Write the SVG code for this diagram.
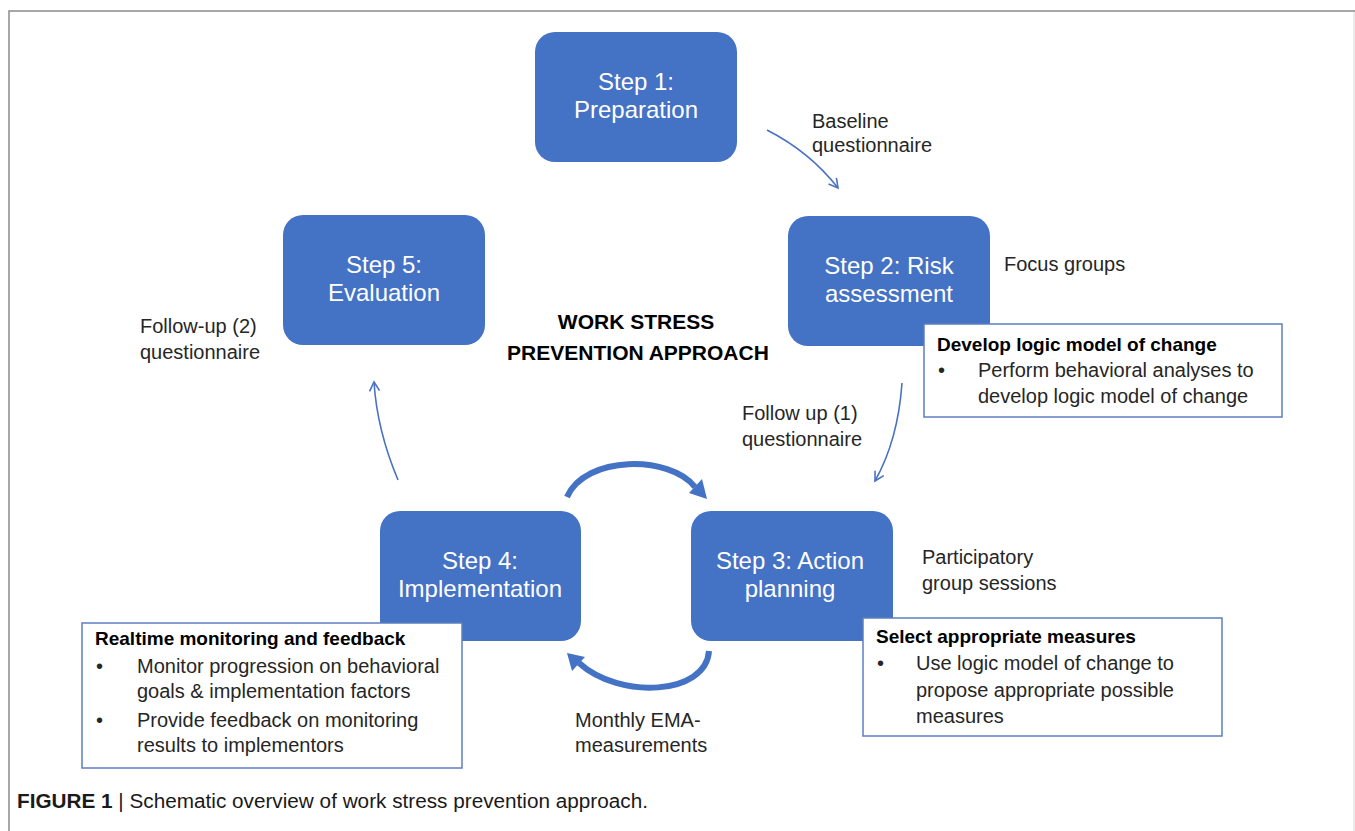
<svg xmlns="http://www.w3.org/2000/svg" width="1355" height="831" viewBox="0 0 1355 831">
<defs>
<style>
.step{fill:#4472C4;}
.st{font-family:"Liberation Sans",Arial,sans-serif;font-size:24px;fill:#fff;text-anchor:middle;}
.lbl{font-family:"Liberation Sans",Arial,sans-serif;font-size:20px;fill:#262626;}
.hd{font-family:"Liberation Sans",Arial,sans-serif;font-size:19px;font-weight:bold;fill:#000;}
.note{fill:#fff;stroke:#5B7FC0;stroke-width:1.5;}
.thin{fill:none;stroke:#4A72C2;stroke-width:1.6;}
.thick{fill:none;stroke:#4472C4;stroke-width:6;}
.title{font-family:"Liberation Sans",Arial,sans-serif;font-size:21px;font-weight:bold;fill:#000;text-anchor:middle;}
</style>
<marker id="open" markerWidth="14" markerHeight="14" refX="10" refY="6" orient="auto" markerUnits="userSpaceOnUse">
<path d="M1,1 L10,6 L1,11" fill="none" stroke="#4A72C2" stroke-width="1.6"/>
</marker>
</defs>
<rect width="1355" height="831" fill="#fff"/>
<path d="M9,831 L9,11 L1355,11" fill="none" stroke="#8a8a8a" stroke-width="1.5"/>
<line x1="1354" y1="12" x2="1354" y2="831" stroke="#d8d8d8" stroke-width="1"/>

<g id="step1"><rect class="step" x="535" y="32" width="202" height="130" rx="20"/>
<text class="st" x="636" y="90">Step 1:</text><text class="st" x="636" y="118">Preparation</text></g>
<g id="step2"><rect class="step" x="788" y="216" width="202" height="130" rx="20"/>
<text class="st" x="889" y="274">Step 2: Risk</text><text class="st" x="889" y="302">assessment</text></g>
<g id="step5"><rect class="step" x="283" y="215" width="202" height="130" rx="20"/>
<text class="st" x="384" y="273">Step 5:</text><text class="st" x="384" y="301">Evaluation</text></g>
<g id="step4"><rect class="step" x="380" y="511" width="201" height="130" rx="20"/>
<text class="st" x="480" y="569">Step 4:</text><text class="st" x="480" y="597">Implementation</text></g>
<g id="step3"><rect class="step" x="691" y="511" width="202" height="130" rx="20"/>
<text class="st" x="790" y="569">Step 3: Action</text><text class="st" x="790" y="597">planning</text></g>

<g id="title"><text class="title" x="636" y="329">WORK STRESS</text><text class="title" x="638" y="360">PREVENTION APPROACH</text></g>

<g id="connectors">
<path class="thin" d="M767,130 Q810,152 838,188" marker-end="url(#open)"/>
<path class="thin" d="M902,383 Q898,440 875,481" marker-end="url(#open)"/>
<path class="thin" d="M398,480 Q377,430 374,382" marker-end="url(#open)"/>
<path class="thick" d="M567,497 C585,455 670,455 695,487"/>
<polygon fill="#4472C4" points="707,499 689,493 702,479"/>
<path class="thick" d="M709,651 C706,695 620,700 579,663"/>
<polygon fill="#4472C4" points="567,653 585,657 572,671"/>
</g>

<g id="labels">
<text class="lbl" x="812" y="128">Baseline</text><text class="lbl" x="812" y="152">questionnaire</text>
<text class="lbl" x="1004" y="271">Focus groups</text>
<text class="lbl" x="140" y="333">Follow-up (2)</text><text class="lbl" x="140" y="359">questionnaire</text>
<text class="lbl" x="742" y="420">Follow up (1)</text><text class="lbl" x="742" y="446">questionnaire</text>
<text class="lbl" x="922" y="564">Participatory</text><text class="lbl" x="922" y="590">group sessions</text>
<text class="lbl" x="575" y="727">Monthly EMA-</text><text class="lbl" x="575" y="752">measurements</text>
</g>

<g id="note-develop"><rect class="note" x="924" y="324" width="358" height="93"/>
<text class="hd" x="937" y="351">Develop logic model of change</text>
<text class="lbl" x="938" y="377">•</text>
<text class="lbl" x="978" y="377">Perform behavioral analyses to</text>
<text class="lbl" x="978" y="403">develop logic model of change</text></g>

<g id="note-realtime"><rect class="note" x="82" y="623" width="380" height="145"/>
<text class="hd" x="95" y="645">Realtime monitoring and feedback</text>
<text class="lbl" x="96" y="673">•</text>
<text class="lbl" x="137" y="673">Monitor progression on behavioral</text>
<text class="lbl" x="137" y="698">goals &amp; implementation factors</text>
<text class="lbl" x="96" y="727">•</text>
<text class="lbl" x="137" y="727">Provide feedback on monitoring</text>
<text class="lbl" x="137" y="752">results to implementors</text></g>

<g id="note-select"><rect class="note" x="863" y="618" width="359" height="118"/>
<text class="hd" x="876" y="643">Select appropriate measures</text>
<text class="lbl" x="877" y="670">•</text>
<text class="lbl" x="916" y="670">Use logic model of change to</text>
<text class="lbl" x="916" y="697">propose appropriate possible</text>
<text class="lbl" x="916" y="723">measures</text></g>

<g id="caption"><text x="17" y="808" font-family="'Liberation Sans',Arial,sans-serif" font-size="20px" fill="#1a1a1a" textLength="631" lengthAdjust="spacingAndGlyphs"><tspan font-weight="bold">FIGURE 1</tspan>  |  Schematic overview of work stress prevention approach.</text></g>
</svg>
